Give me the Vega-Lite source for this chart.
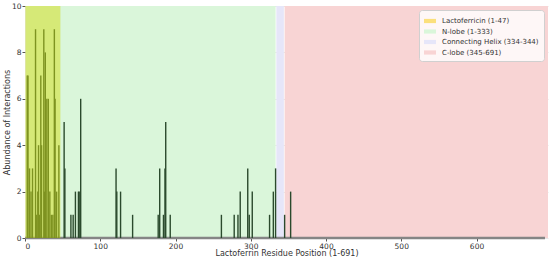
{
  "$schema": "https://vega.github.io/schema/vega-lite/v6.json",
  "width": 523,
  "height": 232,
  "autosize": "none",
  "padding": {"left": 25, "top": 6, "right": 2, "bottom": 23},
  "background": "white",
  "datasets": {
    "regions": [
      {"region": "N-lobe (1-333)", "start": 1, "end": 333},
      {"region": "Connecting Helix (334-344)", "start": 334, "end": 344},
      {"region": "C-lobe (345-691)", "start": 345, "end": 695}
    ],
    "lacto": [{"region": "Lactoferricin (1-47)", "start": 0.5, "end": 47}],
    "bars": [
      {"pos": 3, "count": 7}, {"pos": 4, "count": 7}, {"pos": 6, "count": 3}, {"pos": 8, "count": 2},
      {"pos": 10, "count": 3}, {"pos": 14, "count": 9}, {"pos": 15, "count": 1}, {"pos": 17, "count": 2},
      {"pos": 18, "count": 4}, {"pos": 19, "count": 1}, {"pos": 21, "count": 7}, {"pos": 22, "count": 4},
      {"pos": 25, "count": 9}, {"pos": 26, "count": 2}, {"pos": 27, "count": 8}, {"pos": 29, "count": 6},
      {"pos": 31, "count": 6}, {"pos": 33, "count": 2}, {"pos": 35, "count": 1}, {"pos": 37, "count": 1},
      {"pos": 39, "count": 9}, {"pos": 40, "count": 6}, {"pos": 42, "count": 2}, {"pos": 45, "count": 4},
      {"pos": 52, "count": 5}, {"pos": 53, "count": 3}, {"pos": 61, "count": 1}, {"pos": 64, "count": 1},
      {"pos": 67, "count": 2}, {"pos": 71, "count": 2}, {"pos": 72, "count": 2}, {"pos": 74, "count": 6},
      {"pos": 121, "count": 3}, {"pos": 122, "count": 2}, {"pos": 127, "count": 2}, {"pos": 143, "count": 1},
      {"pos": 177, "count": 1}, {"pos": 179, "count": 3}, {"pos": 184, "count": 1}, {"pos": 186, "count": 3},
      {"pos": 187, "count": 5}, {"pos": 193, "count": 1}, {"pos": 261, "count": 1}, {"pos": 278, "count": 1},
      {"pos": 283, "count": 1}, {"pos": 286, "count": 2}, {"pos": 296, "count": 3}, {"pos": 298, "count": 1},
      {"pos": 302, "count": 2}, {"pos": 325, "count": 1}, {"pos": 330, "count": 2}, {"pos": 333, "count": 3},
      {"pos": 345, "count": 1}, {"pos": 353, "count": 2}
    ]
  },
  "layer": [
    {
      "data": {"name": "regions"},
      "mark": {"type": "rect"},
      "encoding": {
        "x": {
          "field": "start", "type": "quantitative",
          "scale": {"domain": [0, 695], "nice": false, "zero": false},
          "axis": {"values": [0, 100, 200, 300, 400, 500, 600], "title": "Lactoferrin Residue Position (1-691)"}
        },
        "x2": {"field": "end"},
        "y": {"datum": 0, "type": "quantitative", "scale": {"domain": [0, 10], "nice": false},
              "axis": {"values": [0, 2, 4, 6, 8, 10], "title": "Abundance of Interactions"}},
        "y2": {"datum": 10},
        "color": {
          "field": "region", "type": "nominal",
          "scale": {
            "domain": ["Lactoferricin (1-47)", "N-lobe (1-333)", "Connecting Helix (334-344)", "C-lobe (345-691)"],
            "range": ["#fbe07c", "#daf6da", "#e6e6f9", "#f8d4d4"]
          },
          "legend": {"title": null}
        }
      }
    },
    {
      "data": {"values": [{"a": 0, "b": 691}]},
      "mark": {"type": "rule", "color": "#858585", "strokeWidth": 2.5},
      "encoding": {
        "x": {"field": "a", "type": "quantitative"},
        "x2": {"field": "b"},
        "y": {"datum": 0, "type": "quantitative"}
      }
    },
    {
      "data": {"name": "bars"},
      "mark": {"type": "rule", "color": "#2b4a2d", "strokeWidth": 1.4},
      "encoding": {
        "x": {"field": "pos", "type": "quantitative"},
        "y": {"field": "count", "type": "quantitative"},
        "y2": {"datum": 0}
      }
    },
    {
      "data": {"name": "lacto"},
      "mark": {"type": "rect", "color": "#d2dc14", "opacity": 0.5},
      "encoding": {
        "x": {"field": "start", "type": "quantitative"},
        "x2": {"field": "end"},
        "y": {"datum": 0, "type": "quantitative"},
        "y2": {"datum": 10}
      }
    }
  ],
  "config": {
    "font": "DejaVu Sans",
    "view": {"stroke": null},
    "axis": {
      "zindex": 1,
      "domain": false,
      "grid": true,
      "gridColor": "#9a9a9a",
      "gridOpacity": 0.3,
      "gridWidth": 0.8,
      "tickColor": "#555555",
      "tickSize": 3,
      "labelFontSize": 7.5,
      "labelColor": "#333333",
      "labelPadding": 1,
      "titleFontSize": 8,
      "titleFontWeight": "normal",
      "titleColor": "#333333",
      "titlePadding": 0
    },
    "legend": {
      "orient": "top-right",
      "offset": 4,
      "fillColor": "rgba(255,255,255,0.8)",
      "strokeColor": "#d0d0d0",
      "cornerRadius": 3,
      "padding": 5,
      "labelFontSize": 7,
      "labelColor": "#333333",
      "labelOffset": 6,
      "rowPadding": 1.5,
      "symbolType": "M-1,-0.35H1V0.35H-1Z",
      "symbolSize": 144,
      "symbolStrokeWidth": 0
    }
  }
}
